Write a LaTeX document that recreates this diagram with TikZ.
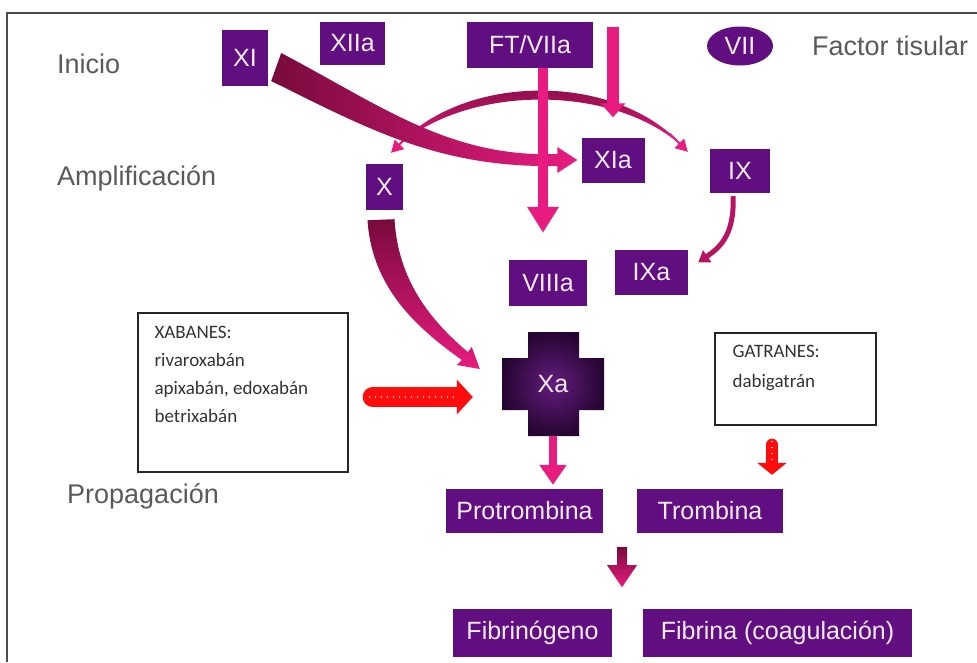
\documentclass[tikz,border=0pt]{standalone}
\usepackage{fontspec}
\setmainfont{Liberation Sans}
\newfontfamily\drugfont{Carlito}
\usetikzlibrary{arrows.meta,calc,shapes.geometric}
\definecolor{boxpurple}{RGB}{96,14,128}
\definecolor{boxtext}{RGB}{246,236,252}
\definecolor{arrowpink}{RGB}{232,28,128}
\definecolor{arrowdark}{RGB}{120,10,60}
\definecolor{labelgray}{RGB}{90,90,90}
\definecolor{xadark}{RGB}{38,5,50}
\definecolor{xamid}{RGB}{100,28,125}
\definecolor{arrowred}{RGB}{255,12,12}
\begin{document}
\begin{tikzpicture}[x=1pt,y=-1pt,
    factor/.style={fill=boxpurple, text=boxtext, inner sep=0pt, font=\fontsize{25}{30}\selectfont},
    stage/.style={text=labelgray, anchor=west, inner sep=0pt, font=\fontsize{27}{32}\selectfont},
    drugbox/.style={draw=black!85, line width=1.3pt, inner sep=0pt},
    drugtext/.style={anchor=north west, inner sep=0pt, align=left, text=black!80, font=\drugfont\fontsize{19}{28}\selectfont},
    redarrow/.style={draw=arrowred, line cap=round},
    reddots/.style={draw=red!25, line width=1.5pt, dash pattern=on 1.5pt off 4.5pt}]
            \useasboundingbox (0,0) rectangle (977,662);
            \draw[line width=1.3pt, black!70] (7,662) -- (7,13) -- (977,13);
            % stages
            \node[stage] (inicio) at (57,64) {Inicio};
            \node[stage] (amplif) at (57,178) {Amplificación};
            \node[stage] (propag) at (67,496) {Propagación};
            \node[stage] (tisular) at (812,46) {Factor tisular};
            % factors
            \node[factor, minimum width=46pt, minimum height=56pt] (XI) at (245,58) {XI};
            \node[factor, minimum width=65pt, minimum height=43pt] (XIIa) at (352.5,43.5) {XIIa};
            \node[factor, minimum width=126pt, minimum height=46pt] (FTVIIa) at (530,45) {FT/VIIa};
            \node[factor, ellipse, minimum width=66pt, minimum height=39pt] (VII) at (740,46) {VII};
            \node[factor, minimum width=37pt, minimum height=46pt] (X) at (384.5,187) {X};
            \node[factor, minimum width=63pt, minimum height=45pt] (XIa) at (613,160) {XIa};
            \node[factor, minimum width=60pt, minimum height=44pt] (IX) at (740,171) {IX};
            \node[factor, minimum width=73pt, minimum height=45pt] (IXa) at (651.5,272.5) {IXa};
            \node[factor, minimum width=78pt, minimum height=46pt] (VIIIa) at (548,283) {VIIIa};
            \node[factor, minimum width=157pt, minimum height=44pt] (Protrombina) at (524.5,511) {Protrombina};
            \node[factor, minimum width=146pt, minimum height=44pt] (Trombina) at (710,511) {Trombina};
            \node[factor, minimum width=159pt, minimum height=48pt] (Fibrinogeno) at (532.5,633) {Fibrinógeno};
            \node[factor, minimum width=269pt, minimum height=48pt] (Fibrina) at (777.5,633) {Fibrina (coagulación)};
            % Xa cross
            \shade[inner color=xamid, outer color=xadark] (553,384) ++(-25,-52) -- ++(51,0) -- ++(0,26) -- ++(25,0) -- ++(0,52) -- ++(-25,0) -- ++(0,26) -- ++(-51,0) -- ++(0,-26) -- ++(-26,0) -- ++(0,-52) -- ++(26,0) -- cycle;
            \node[text=boxtext, inner sep=0pt, minimum width=102pt, minimum height=104pt, font=\fontsize{25}{30}\selectfont] (Xa) at (553,384) {Xa};
            % drug boxes
            \node[drugbox, minimum width=210pt, minimum height=159pt] (xab) at (243,392.5) {};
            \node[drugtext] (xabtext) at ($(xab.north west)+(17,14)$) {XABANES:\\rivaroxabán\\apixabán, edoxabán\\betrixabán};
            \node[drugbox, minimum width=161pt, minimum height=92pt] (gat) at (795.5,379) {};
            \node[drugtext, font=\drugfont\fontsize{19}{30}\selectfont] (gattext) at ($(gat.north west)+(18,13)$) {GATRANES:\\dabigatrán};
            % arch between X and IX
            \coordinate (archL) at ($(X.north)+(6.5,-11)$);
            \coordinate (archR) at ($(IX.north west)+(-22,3)$);
            \shade[top color=arrowdark, bottom color=arrowpink] (archL) .. controls (458,70) and (622,70) .. (archR) .. controls (620,82) and (460,82) .. (archL) -- cycle;
            \draw[arrowpink, line width=2pt, -{Triangle[width=13pt,length=12pt]}] ($(archL)+(18,-18)$) -- (archL);
            \draw[arrowpink, line width=2pt, -{Triangle[width=13pt,length=12pt]}] ($(archR)+(-18,-18)$) -- (archR);
            % XI to XIa
            \coordinate (xiTip) at ($(XIa.west)+(-4,0)$);
            \shade[left color=arrowdark, right color=arrowpink] ($(XI.east)+(13,-5)$) .. controls (380,105) and (450,158) .. ($(xiTip)+(-20,-6)$) -- ($(xiTip)+(-20,-13)$) -- (xiTip) -- ($(xiTip)+(-20,13)$) -- ($(xiTip)+(-20,6)$) .. controls (440,168) and (370,130) .. ($(XI.east)+(3,23)$) -- cycle;
            % FT/VIIa to VIIIa, tissue factor to XIa
            \draw[arrowpink, line width=10pt, -{Triangle[width=30pt,length=26pt]}] ($(FTVIIa.south)+(13,0)$) -- ($(VIIIa.north)+(-5,-27)$);
            \coordinate (tfTop) at (613,27);
            \draw[arrowpink, line width=12pt, -{Triangle[width=24pt,length=14pt]}] (tfTop) -- ($(XIa.north)+(0,-20)$);
            % IX to IXa
            \draw[arrowdark!45!arrowpink, line width=5pt, -{Triangle[width=14pt,length=11pt]}] ($(IX.south)+(-7,3)$) .. controls +(2,40) and +(20,-14) .. ($(IXa.east)+(10,-10)$);
            % X to Xa
            \coordinate (xTip) at ($(Xa.west)+(-22,-15)$);
            \shade[top color=arrowdark, bottom color=arrowpink] ($(X.south)+(-17,10)$) .. controls (372,290) and (420,330) .. ($(xTip)+(-18,-9)$) -- ($(xTip)+(-23,-4)$) -- (xTip) -- ($(xTip)+(-8,-22)$) -- ($(xTip)+(-12,-17)$) .. controls (430,320) and (398,280) .. ($(X.south)+(10,9)$) -- cycle;
            % inhibitors
            \draw[redarrow, line width=20pt, -{Triangle[width=34pt,length=16pt]}] ($(xab.east)+(24,4.5)$) -- ($(Xa.west)+(-29,13)$);
            \draw[reddots] ($(xab.east)+(20,4.5)$) -- ($(Xa.west)+(-48,13)$);
            \draw[redarrow, line width=12pt, -{Triangle[width=29pt,length=12pt]}] ($(gat.south)+(-23.5,19)$) -- ($(Trombina.north)+(62,-14)$);
            \draw[reddots] ($(gat.south)+(-23.5,15)$) -- ($(Trombina.north)+(62,-27)$);
            % propagation
            \draw[arrowpink, line width=8pt, -{Triangle[width=26pt,length=20pt]}] (Xa.south) -- ($(Xa.south |- Protrombina.north)+(0,-4)$);
            \coordinate (mid) at ($(Protrombina.south east)!0.5!(Trombina.south west)+(2,14)$);
            \shade[top color=arrowdark, bottom color=arrowpink] ($(mid)+(-5,0)$) -- ++(10,0) -- ++(0,18) -- ++(10,0) -- ++(-15,22) -- ++(-15,-22) -- ++(10,0) -- cycle;
        \end{tikzpicture}
\end{document}
